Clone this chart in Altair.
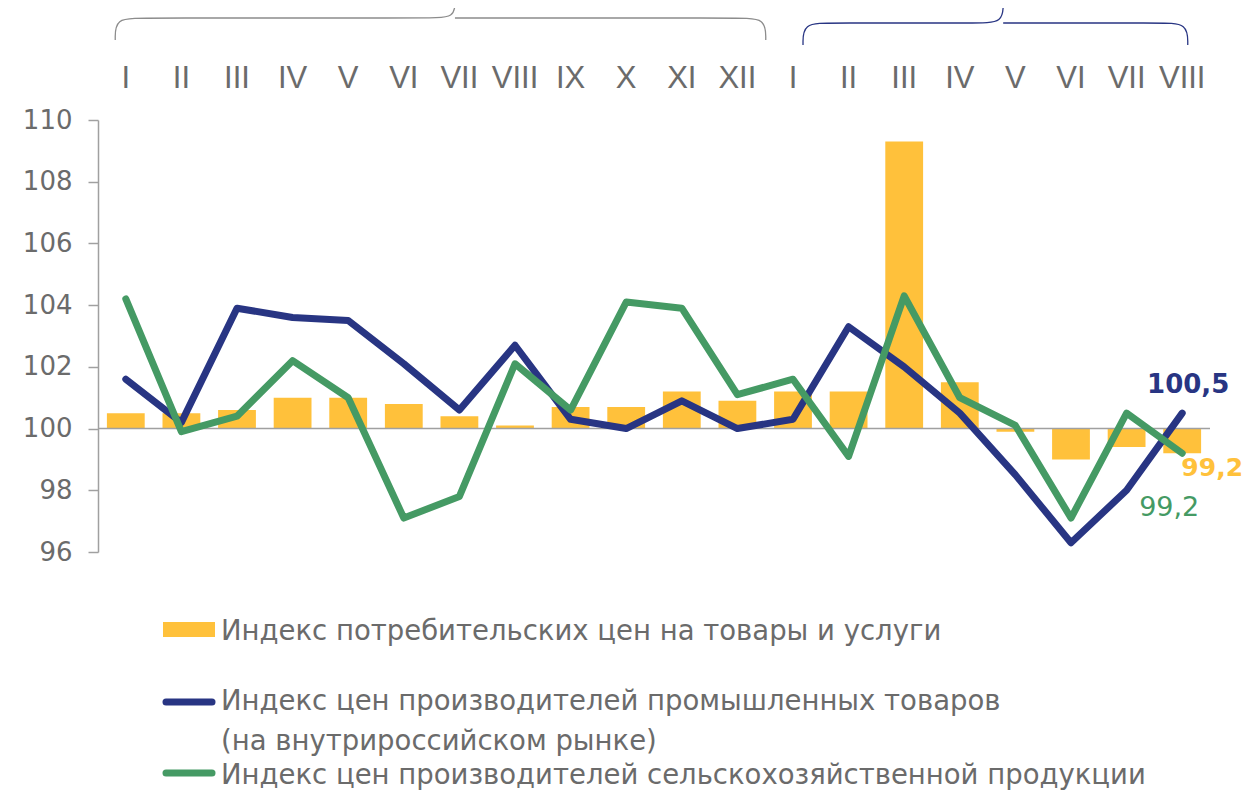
import altair as alt
import pandas as pd

months = ["I", "II", "III", "IV", "V", "VI", "VII", "VIII", "IX", "X", "XI", "XII",
          "I", "II", "III", "IV", "V", "VI", "VII", "VIII"]
cpi = [100.5, 100.5, 100.6, 101.0, 101.0, 100.8, 100.4, 100.1, 100.7, 100.7, 101.2, 100.9,
       101.2, 101.2, 109.3, 101.5, 99.9, 99.0, 99.4, 99.2]
ind = [101.6, 100.2, 103.9, 103.6, 103.5, 102.1, 100.6, 102.7, 100.3, 100.0, 100.9, 100.0,
       100.3, 103.3, 102.0, 100.5, 98.5, 96.3, 98.0, 100.5]
agr = [104.2, 99.9, 100.4, 102.2, 101.0, 97.1, 97.8, 102.1, 100.6, 104.1, 103.9, 101.1,
       101.6, 99.1, 104.3, 101.0, 100.1, 97.1, 100.5, 99.2]
legend_labels = [
    "Индекс потребительских цен на товары и услуги",
    "Индекс цен производителей промышленных товаров",
    "(на внутрироссийском рынке)",
    "Индекс цен производителей сельскохозяйственной продукции",
]
y_ticks = [96, 98, 100, 102, 104, 106, 108, 110]

# brace outlines (month-index units across, relative height units up)
brace_gray_x = [0.31, 0.31, 0.8, 5.95, 6.42, 6.42, 6.42, 6.89, 11.52, 12.01, 12.01]
brace_gray_y = [0.0, 0.55, 0.55, 0.55, 0.55, 1.0, 0.55, 0.55, 0.55, 0.55, 0.0]
brace_seg = [0, 0, 0, 0, 0, 0, 1, 1, 1, 1, 1]
brace_blue_x = [12.68, 12.68, 13.17, 15.81, 16.28, 16.28, 16.28, 16.75, 19.11, 19.6, 19.6]
brace_blue_y = [-0.125, 0.425, 0.425, 0.425, 0.425, 0.95, 0.425, 0.425, 0.425, 0.425, -0.125]

YELLOW = "#FFC13B"
NAVY = "#283583"
GREEN = "#459A64"
GRAY = "#6b6b6b"
FONT = "DejaVu Sans"
MFONT = "Liberation Sans"

keys = list(range(len(months)))
df = pd.DataFrame({"k": keys, "cpi": cpi, "ind": ind, "agr": agr})
label_expr = "[" + ",".join(f"'{m}'" for m in months) + "][datum.value]"

x_enc = alt.X("k:O", scale=alt.Scale(paddingInner=0.32, paddingOuter=0.16),
              axis=alt.Axis(orient="top", title=None, labelExpr=label_expr, labelAngle=0,
                            domain=False, ticks=False, labelFontSize=31, labelColor=GRAY,
                            labelFont=MFONT, labelPadding=26))
y_scale = alt.Scale(domain=[96, 110], nice=False, zero=False)
y_axis = alt.Axis(title=None, values=y_ticks, grid=False, domain=True, domainColor="#a0a0a0",
                  domainWidth=1.5, tickColor="#a0a0a0", tickWidth=1.5, tickSize=10,
                  labelFontSize=26, labelColor=GRAY, labelFont=FONT, labelPadding=16)

base = alt.Chart(df)
bars = base.mark_bar(color=YELLOW).encode(
    x=x_enc,
    y=alt.Y("cpi:Q", scale=y_scale, axis=y_axis),
    y2=alt.datum(100),
)
base_rule = alt.Chart(pd.DataFrame({"v": [100]})).mark_rule(color="#a0a0a0", strokeWidth=1.5).encode(
    y=alt.Y("v:Q", scale=y_scale)
)
line_ind = base.mark_line(color=NAVY, strokeWidth=7, strokeCap="round", strokeJoin="round").encode(
    x=alt.X("k:O"), y=alt.Y("ind:Q", scale=y_scale)
)
line_agr = base.mark_line(color=GREEN, strokeWidth=7, strokeCap="round", strokeJoin="round").encode(
    x=alt.X("k:O"), y=alt.Y("agr:Q", scale=y_scale)
)

last = pd.DataFrame({
    "k": [keys[-1]],
    "cpi": [cpi[-1]], "ind": [ind[-1]], "agr": [agr[-1]],
    "cpi_t": [f"{cpi[-1]:.1f}".replace(".", ",")],
    "ind_t": [f"{ind[-1]:.1f}".replace(".", ",")],
    "agr_t": [f"{agr[-1]:.1f}".replace(".", ",")],
})
lab_ind = alt.Chart(last).mark_text(color=NAVY, fontSize=26, fontWeight="bold", font=FONT,
                                    dx=6, dy=-28).encode(
    x="k:O", y=alt.Y("ind:Q", scale=y_scale), text="ind_t:N")
lab_cpi = alt.Chart(last).mark_text(color=YELLOW, fontSize=25, fontWeight="bold", font=FONT,
                                    dx=30, dy=15).encode(
    x="k:O", y=alt.Y("cpi:Q", scale=y_scale), text="cpi_t:N")
lab_agr = alt.Chart(last).mark_text(color=GREEN, fontSize=27, font=FONT,
                                    dx=-13, dy=55).encode(
    x="k:O", y=alt.Y("agr:Q", scale=y_scale), text="agr_t:N")

main = alt.layer(bars, base_rule, line_ind, line_agr, lab_ind, lab_cpi, lab_agr)

bx = alt.X("bx:Q", scale=alt.Scale(domain=[0, 20], nice=False, zero=False), axis=None)
by = alt.Y("by:Q", scale=alt.Scale(domain=[0, 1], range=[-80, -120], nice=False, zero=False), axis=None)
gray_df = pd.DataFrame({"bx": brace_gray_x, "by": brace_gray_y, "seg": brace_seg,
                        "o": list(range(len(brace_gray_x)))})
blue_df = pd.DataFrame({"bx": brace_blue_x, "by": brace_blue_y, "seg": brace_seg,
                        "o": list(range(len(brace_blue_x)))})
brace_gray = alt.Chart(gray_df).mark_line(color="#8c8c8c", strokeWidth=1.3, interpolate="basis").encode(
    x=bx, y=by, detail="seg:N", order="o:Q")
brace_blue = alt.Chart(blue_df).mark_line(color=NAVY, strokeWidth=1.3, interpolate="basis").encode(
    x=bx, y=by, detail="seg:N", order="o:Q")
braces = alt.layer(brace_gray, brace_blue)

one = pd.DataFrame({"a": [0]})
leg_rect = alt.Chart(one).mark_rect(color=YELLOW).encode(
    x=alt.value(65), x2=alt.value(117), y=alt.value(502), y2=alt.value(517))
leg_l1 = alt.Chart(one).mark_rule(color=NAVY, strokeWidth=7, strokeCap="round").encode(
    x=alt.value(68), x2=alt.value(114), y=alt.value(582))
leg_l2 = alt.Chart(one).mark_rule(color=GREEN, strokeWidth=7, strokeCap="round").encode(
    x=alt.value(68), x2=alt.value(114), y=alt.value(653))
leg_texts = []
for lab, yy in zip(legend_labels, [512, 582, 622, 656]):
    leg_texts.append(alt.Chart(one).mark_text(align="left", baseline="middle", fontSize=27.5,
                                              font=FONT, color=GRAY).encode(
        x=alt.value(123), y=alt.value(yy), text=alt.value(lab)))
legend = alt.layer(leg_rect, leg_l1, leg_l2, *leg_texts)

chart = alt.layer(main, braces, legend).resolve_scale(x="independent", y="independent").properties(
    width=1112, height=432,
    autosize=alt.AutoSizeParams(type="none"),
    padding={"left": 90, "top": 112, "right": 33, "bottom": 240},
).configure(background="white").configure_view(stroke=None)

chart.save("out.html", embed_options={"renderer": "svg", "actions": False})
